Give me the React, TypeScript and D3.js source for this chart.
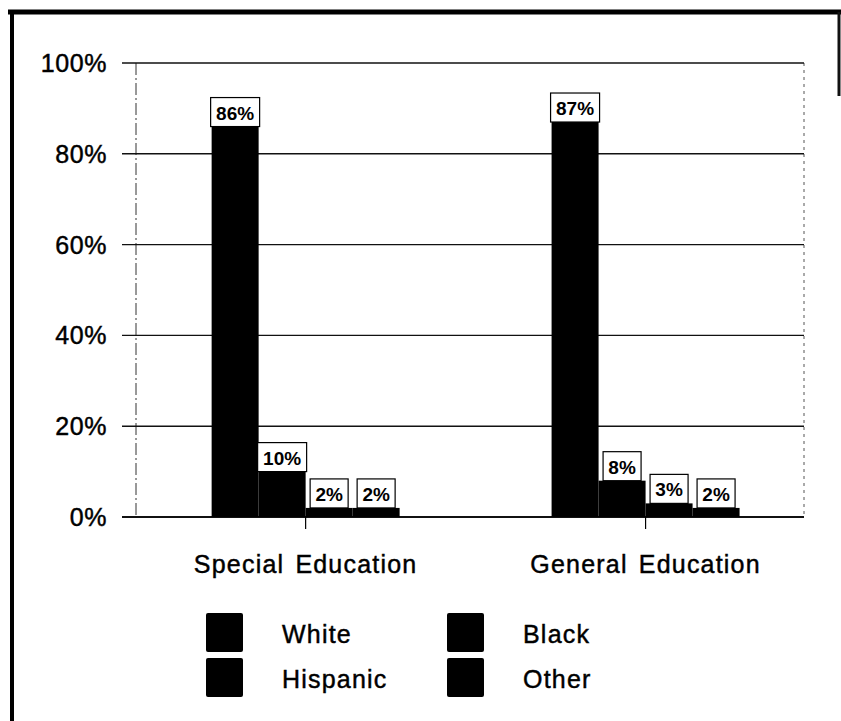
import React from "react";
import * as d3 from "d3";

const categories = ["Special Education", "General Education"];
const seriesNames = ["White", "Black", "Hispanic", "Other"];
const white = [86, 87];
const black = [10, 8];
const hispanic = [2, 3];
const other = [2, 2];
const yTicks = [0, 20, 40, 60, 80, 100];

const seriesValues = [white, black, hispanic, other];

const W = 841;
const H = 721;
const PL = 136;
const PR = 804;
const PT = 63;
const PB = 517;
const FONT = "'Liberation Sans', Arial, Helvetica, sans-serif";

export default function App() {
  const x = d3
    .scaleBand<string>()
    .domain(categories)
    .range([PL, PR])
    .paddingInner(0.447)
    .paddingOuter(0.206)
    .align(0.54);
  const xs = d3
    .scaleBand<string>()
    .domain(seriesNames)
    .range([0, x.bandwidth()])
    .padding(0);
  const y = d3.scaleLinear().domain([0, 100]).range([PB, PT]);

  const labelW = (v: number) => (String(v).length === 1 ? 38 : 49);

  const legendItems = [
    { name: "White", col: 0, row: 0 },
    { name: "Black", col: 1, row: 0 },
    { name: "Hispanic", col: 0, row: 1 },
    { name: "Other", col: 1, row: 1 },
  ];

  const ink = { fill: "#000", stroke: "#000", strokeWidth: 0.45 };

  return (
    <svg
      width={W}
      height={H}
      style={{ position: "absolute", left: 0, top: 0, background: "#fff" }}
      fontFamily={FONT}
    >
      <rect x={0} y={0} width={W} height={H} fill="#fff" />
      {/* frame */}
      <line x1={8} x2={841} y1={12} y2={12} stroke="#000" strokeWidth={5} />
      <line x1={12} x2={12} y1={10} y2={721} stroke="#000" strokeWidth={4} />
      <line x1={839} x2={839} y1={12} y2={96} stroke="#111" strokeWidth={3} />

      {/* axes frame lines */}
      <line x1={PL} x2={PL} y1={PT} y2={PB} stroke="#333" strokeWidth={1} strokeDasharray="12,3,2,3" />
      <line x1={PR} x2={PR} y1={PT} y2={PB} stroke="#555" strokeWidth={1} strokeDasharray="3,4" />

      {/* gridlines and y ticks */}
      {yTicks.map((t) => (
        <g key={t}>
          <line
            x1={122}
            x2={PR}
            y1={y(t)}
            y2={y(t)}
            stroke="#111"
            strokeWidth={t === 0 ? 1.8 : 1.4}
          />
          <text
            x={107}
            y={y(t)}
            dy="0.36em"
            textAnchor="end"
            fontSize={25}
            letterSpacing={0.6}
            {...ink}
          >
            {t}%
          </text>
        </g>
      ))}

      {/* category ticks and labels */}
      {categories.map((c) => {
        const cx = (x(c) as number) + x.bandwidth() / 2;
        return (
          <g key={c}>
            <line x1={cx} x2={cx} y1={PB} y2={PB + 12} stroke="#000" strokeWidth={1.2} />
            <text
              x={cx}
              y={573}
              textAnchor="middle"
              fontSize={25}
              letterSpacing={1.2}
              wordSpacing={3}
              {...ink}
            >
              {c}
            </text>
          </g>
        );
      })}

      {/* bars */}
      {categories.map((c, ci) => (
        <g key={c} transform={`translate(${x(c)},0)`}>
          {seriesNames.map((s, si) => {
            const v = seriesValues[si][ci];
            const bx = xs(s) as number;
            return (
              <rect
                key={s}
                x={bx}
                y={y(v)}
                width={xs.bandwidth()}
                height={PB - y(v)}
                fill="#000"
              />
            );
          })}
          {seriesNames.map((s, si) => {
            const v = seriesValues[si][ci];
            const bx = (xs(s) as number) + xs.bandwidth() / 2;
            const lw = labelW(v);
            return (
              <g key={s + "l"}>
                <rect
                  x={bx - lw / 2}
                  y={y(v) - 29}
                  width={lw}
                  height={29}
                  fill="#fff"
                  stroke="#000"
                  strokeWidth={1.2}
                />
                <text
                  x={bx}
                  y={y(v) - 7}
                  textAnchor="middle"
                  fontSize={19}
                  fontWeight="bold"
                  fill="#000"
                >
                  {v}%
                </text>
              </g>
            );
          })}
        </g>
      ))}

      {/* legend */}
      {legendItems.map((it) => {
        const sx = it.col === 0 ? 206 : 447;
        const sy = it.row === 0 ? 613 : 658;
        return (
          <g key={it.name}>
            <rect x={sx} y={sy} width={37} height={39} rx={2} fill="#000" />
            <text
              x={sx + 76}
              y={sy + 30}
              fontSize={25}
              letterSpacing={1.2}
              {...ink}
            >
              {it.name}
            </text>
          </g>
        );
      })}
    </svg>
  );
}
